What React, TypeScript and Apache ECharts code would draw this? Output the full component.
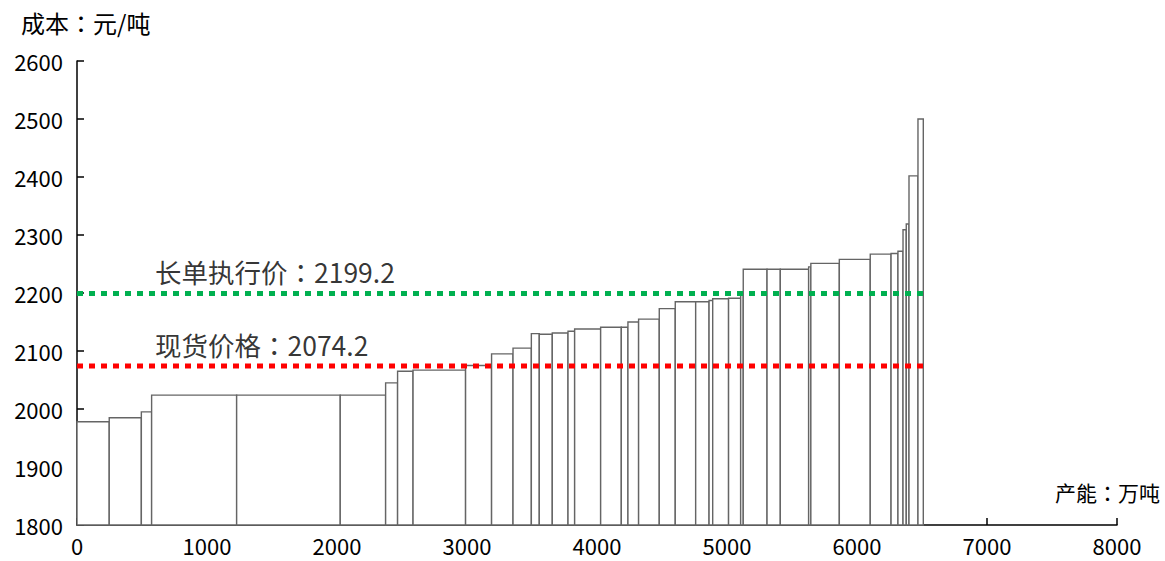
import React, { useEffect, useRef } from "react";
import * as echarts from "echarts";

// Capacity blocks (万吨) and cost (元/吨)
const capacities = [248, 247, 79, 654, 797, 349, 92, 119, 404, 200, 165, 141, 61, 100, 121, 51, 200, 159, 51, 82, 159, 123, 157, 103, 28, 122, 93, 20, 183, 102, 218, 17, 219, 238, 160, 53, 39, 25, 21, 69, 41];
const costs = [1978, 1985, 1995, 2024, 2024, 2024, 2045, 2065, 2067, 2075, 2095, 2105, 2130, 2129, 2131, 2134, 2138, 2141, 2141, 2150, 2155, 2173, 2185, 2185, 2187, 2190, 2191, 2196, 2241, 2241, 2241, 2245, 2251, 2258, 2267, 2268, 2272, 2309, 2319, 2402, 2500];

const longTermPrice = 2199.2;
const spotPrice = 2074.2;
const longTermLabel = "长单执行价：2199.2";
const spotLabel = "现货价格：2074.2";
const yTitle = "成本：元/吨";
const xTitle = "产能：万吨";
const labelX = 600;

const FONT = "'Noto Sans CJK TC', 'Noto Sans', sans-serif";

export default function App() {
  const ref = useRef<HTMLDivElement>(null);
  useEffect(() => {
    if (!ref.current) return;
    const chart = echarts.init(ref.current, undefined, { renderer: "svg" });
    const blocks: number[][] = [];
    let start = 0;
    for (let i = 0; i < capacities.length; i++) {
      blocks.push([start, start + capacities[i], costs[i]]);
      start += capacities[i];
    }
    const totalCap = start;

    const refLine = (val: number, color: string, text: string) => [
      {
        type: "line",
        data: [
          [0, val],
          [totalCap, val],
        ],
        symbol: "none",
        lineStyle: { color, width: 5, type: [6, 6], cap: "butt" },
        z: 5,
        silent: true,
      },
      {
        type: "scatter",
        data: [[labelX, val]],
        symbolSize: 0,
        label: {
          show: true,
          formatter: text,
          position: [0, -35],
          align: "left",
          fontSize: 26.5,
          fontFamily: FONT,
          color: "#000",
        },
        z: 6,
        silent: true,
      },
    ];

    chart.setOption({
      animation: false,
      textStyle: { fontFamily: FONT },
      title: {
        text: yTitle,
        left: 16,
        top: 5,
        textStyle: { fontSize: 24, fontWeight: "normal", color: "#000", fontFamily: FONT },
      },
      graphic: [
        {
          type: "text",
          right: 5,
          top: 481,
          style: { text: xTitle, fontSize: 21, fill: "#000", fontFamily: FONT },
        },
      ],
      grid: { left: 77, right: 48, top: 61, bottom: 36, containLabel: false },
      xAxis: {
        type: "value",
        min: 0,
        max: 8000,
        interval: 1000,
        splitLine: { show: false },
        axisLine: { lineStyle: { color: "#000", width: 1.5 } },
        axisTick: { inside: true, length: 7, lineStyle: { color: "#000", width: 1.5 } },
        axisLabel: { fontSize: 22, color: "#000", margin: 9, fontFamily: FONT, formatter: (v: number) => String(v) },
      },
      yAxis: {
        type: "value",
        min: 1800,
        max: 2600,
        interval: 100,
        splitLine: { show: false },
        axisLine: { show: true, lineStyle: { color: "#000", width: 1.5 } },
        axisTick: { show: true, inside: true, length: 7, lineStyle: { color: "#000", width: 1.5 } },
        axisLabel: { fontSize: 22, color: "#000", margin: 14, fontFamily: FONT, formatter: (v: number) => String(v) },
      },
      series: [
        {
          type: "custom",
          data: blocks,
          encode: { x: [0, 1], y: 2 },
          renderItem: (params: any, api: any) => {
            const x0 = api.value(0);
            const x1 = api.value(1);
            const c = api.value(2);
            const p0 = api.coord([x0, c]);
            const p1 = api.coord([x1, 1800]);
            return {
              type: "rect",
              shape: { x: p0[0], y: p0[1], width: p1[0] - p0[0], height: p1[1] - p0[1] },
              style: { fill: "#fff", stroke: "#656565", lineWidth: 1.4 },
            };
          },
          z: 2,
        },
        ...refLine(longTermPrice, "#00B050", longTermLabel),
        ...refLine(spotPrice, "#FF0000", spotLabel),
      ],
    });
    return () => chart.dispose();
  }, []);
  return (
    <div
      ref={ref}
      style={{ position: "fixed", left: 0, top: 0, width: 1165, height: 561, background: "#fff" }}
    />
  );
}
